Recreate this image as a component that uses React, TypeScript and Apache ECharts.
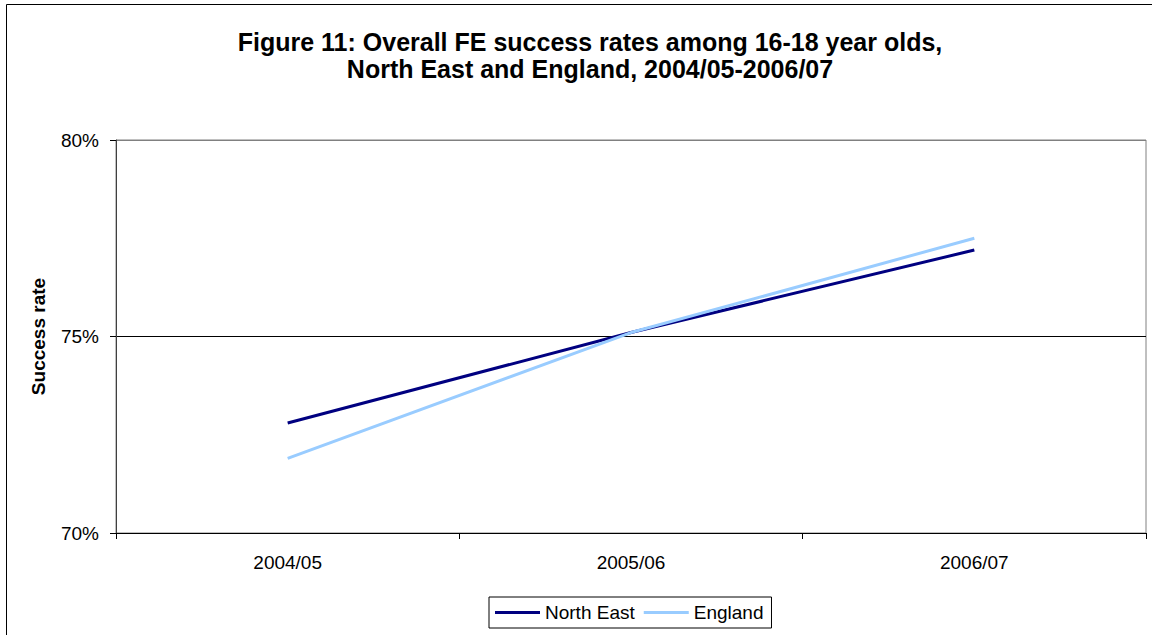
import React, { useEffect, useRef } from "react";
import * as echarts from "echarts";

const categories = ["2004/05", "2005/06", "2006/07"];
const northEast = [72.8, 75.1, 77.2];
const england = [71.9, 75.1, 77.5];
const yTicks = [70, 75, 80];

const FONT = "'Liberation Sans', Arial, sans-serif";

export default function App() {
  const ref = useRef<HTMLDivElement>(null);
  useEffect(() => {
    document.body.style.margin = "0";
    const chart = echarts.init(ref.current!, null, { renderer: "svg" });
    chart.setOption({
      animation: false,
      backgroundColor: "#ffffff",
      textStyle: { fontFamily: FONT, color: "#000" },
      graphic: [
        {
          type: "rect",
          shape: { x: 6.5, y: 4.5, width: 1160, height: 640 },
          style: { fill: "none", stroke: "#000", lineWidth: 1 },
          z: 100,
        },
        {
          type: "text",
          x: 590,
          y: 28,
          style: {
            text: "Figure 11: Overall FE success rates among 16-18 year olds,\nNorth East and England, 2004/05-2006/07",
            fontFamily: FONT,
            fontWeight: "bold",
            fontSize: 25,
            lineHeight: 27,
            textAlign: "center",
            fill: "#000",
          },
        },
      ],
      grid: {
        left: 116,
        top: 140,
        right: 6,
        bottom: 102,
        show: true,
        borderColor: "#808080",
        borderWidth: 1,
      },
      legend: {
        left: 489,
        top: 597,
        data: ["North East", "England"],
        icon: "rect",
        itemWidth: 45,
        itemHeight: 3,
        itemGap: 9,
        borderColor: "#000",
        borderWidth: 1,
        borderRadius: 0,
        padding: [6, 8, 6, 6],
        textStyle: { fontFamily: FONT, fontSize: 19, color: "#000" },
      },
      xAxis: {
        type: "category",
        data: categories,
        boundaryGap: true,
        axisLine: { lineStyle: { color: "#000", width: 1 } },
        axisTick: { show: true, length: 6, lineStyle: { color: "#000" } },
        axisLabel: { fontFamily: FONT, fontSize: 19, color: "#000", margin: 20 },
        splitLine: { show: false },
      },
      yAxis: {
        type: "value",
        min: yTicks[0],
        max: yTicks[yTicks.length - 1],
        interval: 5,
        name: "Success rate",
        nameLocation: "middle",
        nameGap: 68,
        nameTextStyle: { fontFamily: FONT, fontSize: 19, fontWeight: "bold", color: "#000" },
        axisLine: { show: true, lineStyle: { color: "#404040", width: 1 } },
        axisTick: { show: true, length: 6, lineStyle: { color: "#000" } },
        axisLabel: {
          fontFamily: FONT,
          fontSize: 19,
          color: "#000",
          margin: 17,
          formatter: (v: number) => `${v}%`,
        },
        splitLine: { show: true, lineStyle: { color: ["#000000", "#000000", "#808080"], width: 1 } },
      },
      series: [
        {
          name: "North East",
          type: "line",
          data: northEast,
          symbol: "none",
          color: "#000080",
          lineStyle: { color: "#000080", width: 3 },
        },
        {
          name: "England",
          type: "line",
          data: england,
          symbol: "none",
          color: "#99CCFF",
          lineStyle: { color: "#99CCFF", width: 3 },
        },
      ],
    });
    return () => chart.dispose();
  }, []);
  return <div ref={ref} style={{ width: 1152, height: 635 }} />;
}
